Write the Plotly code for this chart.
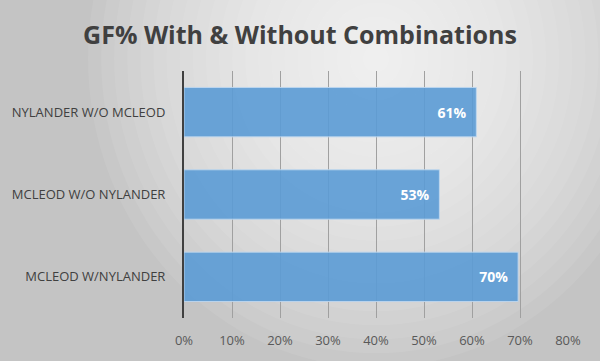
import plotly.graph_objects as go

categories = ["MCLEOD W/NYLANDER", "MCLEOD W/O NYLANDER", "NYLANDER W/O MCLEOD"]
gf_pct = [0.696, 0.532, 0.609]
tick_vals = [0, 0.1, 0.2, 0.3, 0.4, 0.5, 0.6, 0.7, 0.8]
tick_text = ["0%", "10%", "20%", "30%", "40%", "50%", "60%", "70%", "80%"]

fig = go.Figure(go.Bar(
    y=categories, x=gf_pct, orientation="h",
    marker=dict(color="rgba(91,155,213,0.9)", line=dict(color="rgba(190,215,240,0.9)", width=1)),
    texttemplate="%{x:.0%}\u00a0\u00a0", textposition="inside", insidetextanchor="end",
    textfont=dict(family="Open Sans", size=14, color="white", weight="bold"),
    hoverinfo="skip",
))

# radial-ish gradient background
shapes = []
n = 22
for i in range(n):
    f = 1 - i / n
    shapes.append(dict(type="circle", xref="paper", yref="paper", layer="below",
                       x0=0.5 - 0.75 * f, x1=0.5 + 0.75 * f, y0=1.05 - 1.25 * f, y1=1.05 + 1.25 * f,
                       fillcolor="rgba(255,255,255,0.075)", line=dict(width=0)))

fig.update_layout(
    width=600, height=361,
    margin=dict(l=182, r=32, t=71, b=41),
    paper_bgcolor="#c4c4c4", plot_bgcolor="rgba(0,0,0,0)",
    title=dict(text="<b>GF% With & Without Combinations</b>", x=0.5, xanchor="center", y=0.903, yanchor="middle",
               font=dict(family="Open Sans", size=25, color="#404040")),
    bargap=0.4, showlegend=False, shapes=shapes,
    xaxis=dict(range=[0, 0.8], tickvals=tick_vals, ticktext=tick_text, showgrid=True,
               gridcolor="#a0a0a0", gridwidth=1, zeroline=False, showline=False,
               ticks="outside", ticklen=10, tickcolor="rgba(0,0,0,0)",
               tickfont=dict(family="Open Sans", size=13, color="#595959")),
    yaxis=dict(showgrid=False, showline=True, linecolor="#404040", linewidth=2,
               ticks="outside", ticklen=14, tickcolor="rgba(0,0,0,0)",
               tickfont=dict(family="Open Sans", size=13, color="#404040")),
)
fig.write_html("out.html", config={"displayModeBar": False},
               post_script="document.body.style.margin='0';document.body.style.overflow='hidden';")
